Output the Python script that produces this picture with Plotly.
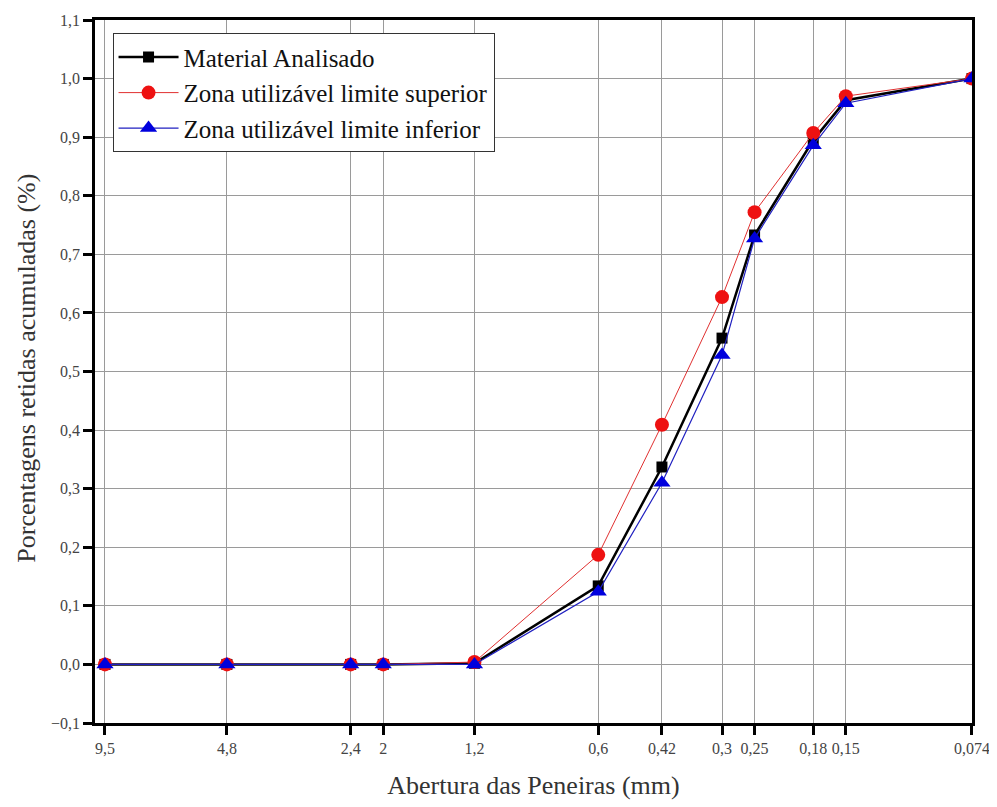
import plotly.graph_objects as go

sieves = [9.5, 4.8, 2.4, 2.0, 1.2, 0.6, 0.42, 0.3, 0.25, 0.18, 0.15, 0.074]
tick_labels = ["9,5", "4,8", "2,4", "2", "1,2", "0,6", "0,42", "0,3", "0,25", "0,18", "0,15", "0,074"]
material = [0.0, 0.0, 0.0, 0.0, 0.002, 0.134, 0.337, 0.557, 0.733, 0.895, 0.963, 1.0]
upper = [0.0, 0.0, 0.0, 0.0, 0.004, 0.187, 0.409, 0.627, 0.772, 0.907, 0.970, 1.0]
lower = [0.0, 0.0, 0.0, 0.0, 0.0, 0.124, 0.310, 0.528, 0.727, 0.886, 0.958, 1.0]
y_ticks = [-0.1, 0.0, 0.1, 0.2, 0.3, 0.4, 0.5, 0.6, 0.7, 0.8, 0.9, 1.0, 1.1]

serif = "Liberation Serif, Times New Roman, serif"

fig = go.Figure()
fig.add_trace(go.Scatter(x=sieves, y=material, mode="lines+markers", name="Material Analisado",
                         line=dict(color="black", width=2.5),
                         marker=dict(symbol="square", size=11, color="black")))
fig.add_trace(go.Scatter(x=sieves, y=upper, mode="lines+markers", name="Zona utilizável limite superior",
                         line=dict(color="#e03030", width=1),
                         marker=dict(symbol="circle", size=14, color="#ee1111")))
fig.add_trace(go.Scatter(x=sieves, y=lower, mode="lines+markers", name="Zona utilizável limite inferior",
                         line=dict(color="#2020c0", width=1.2),
                         marker=dict(symbol="triangle-up", size=15, color="#0000dd")))

fig.update_layout(
    width=989, height=799,
    margin=dict(l=87, r=25, t=12, b=84),
    paper_bgcolor="white", plot_bgcolor="white",
    separators=",.",
    font=dict(family=serif, color="#222"),
    showlegend=True,
    legend=dict(x=0.02, y=0.981, xanchor="left", yanchor="top",
                bgcolor="white", bordercolor="#333", borderwidth=1,
                font=dict(family=serif, size=25, color="#111"),
                tracegroupgap=0, itemwidth=60),
)
fig.add_annotation(
    text="Porcentagens retidas acumuladas (%)", textangle=-90,
    xref="paper", yref="paper", x=0, y=0.504, xanchor="center", yanchor="middle",
    xshift=-68, showarrow=False,
    font=dict(family=serif, size=26, color="#333"),
)
fig.update_xaxes(
    type="log", range=[1.002, -1.1308], automargin=False,
    tickvals=sieves, ticktext=tick_labels,
    tickfont=dict(family=serif, size=16, color="#444"),
    showgrid=True, gridcolor="#9a9a9a", gridwidth=1,
    showline=True, linecolor="black", linewidth=2.5, mirror=True,
    ticks="outside", ticklen=9, tickwidth=2.5, tickcolor="black",
    title=dict(text="Abertura das Peneiras (mm)", font=dict(family=serif, size=26, color="#333"), standoff=20),
    zeroline=False,
)
fig.update_yaxes(
    range=[-0.1, 1.1], automargin=False,
    tickvals=y_ticks, tickformat=".1f",
    tickfont=dict(family=serif, size=16, color="#444"),
    showgrid=True, gridcolor="#9a9a9a", gridwidth=1,
    showline=True, linecolor="black", linewidth=2.5, mirror=True,
    ticks="outside", ticklen=9, tickwidth=2.5, tickcolor="black",
    zeroline=False,
)

fig.write_html("out.html")
